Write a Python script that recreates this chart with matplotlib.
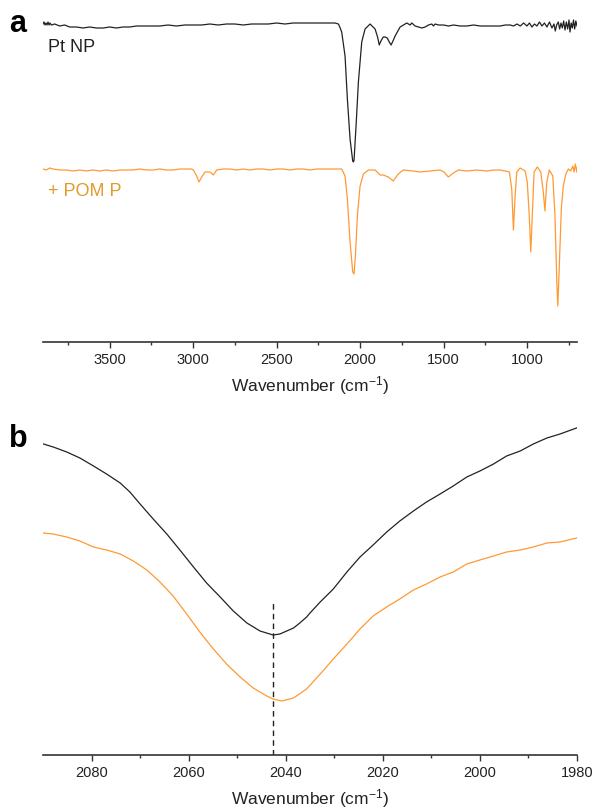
import numpy as np
import matplotlib
matplotlib.use("Agg")
import matplotlib.pyplot as plt

plt.rcParams['font.family'] = ['Liberation Sans', 'DejaVu Sans']
plt.rcParams['mathtext.fontset'] = 'custom'
plt.rcParams['mathtext.rm'] = 'Liberation Sans'
plt.rcParams['mathtext.it'] = 'Liberation Sans:italic'

black = '#222222'
orange = '#FF9933'
orange_text = '#E39A2C'
axis_col = '#333333'

# ---- panel a: full spectra (transmittance, a.u., offset) ----
pt_wn = [3900, 3894, 3888, 3882, 3876, 3870, 3864, 3858, 3850, 3830, 3800, 3770, 3740, 3700,
         3660, 3620, 3580, 3540, 3500, 3460, 3420, 3380, 3340, 3300, 3250, 3200, 3150, 3100,
         3050, 3000, 2950, 2900, 2850, 2800, 2750, 2700, 2650, 2600, 2550, 2500, 2450, 2400,
         2350, 2300, 2250, 2200, 2150, 2130, 2124, 2110, 2090, 2076, 2060, 2044, 2040, 2036,
         2024, 2010, 1990, 1970, 1940, 1910, 1895, 1885, 1875, 1861, 1850, 1837, 1825, 1814,
         1800, 1790, 1760, 1740, 1720, 1700, 1690, 1670, 1650, 1630, 1610, 1590, 1570, 1560,
         1550, 1530, 1500, 1470, 1440, 1400, 1360, 1320, 1280, 1240, 1200, 1160, 1130, 1100,
         1080, 1060, 1040, 1020, 1000, 985, 970, 955, 940, 925, 910, 895, 880, 865, 850, 838,
         830, 822, 812, 804, 796, 788, 780, 772, 764, 756, 748, 742, 735, 728, 721, 714, 707,
         700]
pt_t = [3.18, 3.20, 3.17, 3.19, 3.17, 3.20, 3.17, 3.19, 3.17, 3.18, 3.16, 3.17, 3.15, 3.15,
        3.14, 3.15, 3.14, 3.14, 3.15, 3.14, 3.15, 3.15, 3.16, 3.16, 3.16, 3.16, 3.17, 3.16,
        3.17, 3.17, 3.17, 3.18, 3.17, 3.18, 3.18, 3.17, 3.18, 3.18, 3.18, 3.19, 3.18, 3.19,
        3.19, 3.19, 3.19, 3.19, 3.19, 3.18, 3.16, 3.10, 2.86, 2.43, 2.03, 1.81, 1.80, 1.82,
        2.16, 2.60, 3.00, 3.13, 3.18, 3.13, 3.05, 2.97, 3.01, 3.05, 3.05, 3.04, 3.00, 2.97,
        3.02, 3.06, 3.15, 3.17, 3.19, 3.17, 3.19, 3.16, 3.15, 3.14, 3.15, 3.17, 3.18, 3.16,
        3.18, 3.17, 3.17, 3.16, 3.17, 3.16, 3.16, 3.17, 3.16, 3.16, 3.16, 3.16, 3.17, 3.17,
        3.16, 3.18, 3.16, 3.19, 3.16, 3.19, 3.15, 3.18, 3.16, 3.20, 3.16, 3.19, 3.15, 3.20,
        3.14, 3.18, 3.11, 3.17, 3.20, 3.13, 3.19, 3.14, 3.21, 3.12, 3.20, 3.13, 3.22, 3.10,
        3.19, 3.14, 3.22, 3.13, 3.21, 3.16]

pom_wn = [3900, 3880, 3860, 3840, 3800, 3760, 3720, 3680, 3640, 3600, 3560, 3520, 3480, 3440,
          3400, 3360, 3320, 3280, 3240, 3200, 3160, 3120, 3080, 3040, 3010, 2999, 2979, 2965,
          2949, 2929, 2899, 2879, 2859, 2820, 2780, 2740, 2700, 2660, 2620, 2580, 2540, 2500,
          2460, 2420, 2380, 2340, 2300, 2260, 2220, 2180, 2140, 2110, 2090, 2076, 2060, 2044,
          2036, 2028, 2016, 2000, 1980, 1950, 1910, 1880, 1861, 1831, 1801, 1771, 1741, 1681,
          1641, 1581, 1521, 1497, 1471, 1441, 1411, 1361, 1300, 1240, 1200, 1161, 1130, 1105,
          1091, 1081, 1071, 1061, 1041, 1011, 998, 986, 977, 968, 957, 938, 917, 902, 892,
          881, 866, 845, 832, 821, 815, 806, 794, 782, 767, 752, 738, 725, 718, 710, 702, 700]
pom_t = [1.73, 1.72, 1.74, 1.73, 1.72, 1.72, 1.71, 1.72, 1.71, 1.72, 1.71, 1.72, 1.71, 1.72,
         1.72, 1.72, 1.73, 1.72, 1.72, 1.73, 1.72, 1.72, 1.73, 1.73, 1.73, 1.72, 1.66, 1.60,
         1.65, 1.70, 1.70, 1.67, 1.72, 1.73, 1.73, 1.72, 1.73, 1.72, 1.73, 1.73, 1.72, 1.73,
         1.73, 1.72, 1.73, 1.73, 1.72, 1.73, 1.73, 1.73, 1.73, 1.73, 1.66, 1.43, 1.00, 0.70,
         0.68, 0.86, 1.26, 1.56, 1.68, 1.72, 1.72, 1.67, 1.67, 1.65, 1.61, 1.68, 1.72, 1.71,
         1.70, 1.71, 1.72, 1.70, 1.65, 1.69, 1.72, 1.71, 1.72, 1.71, 1.72, 1.72, 1.71, 1.70,
         1.53, 1.12, 1.46, 1.70, 1.74, 1.71, 1.60, 1.26, 0.90, 1.26, 1.70, 1.75, 1.70, 1.50, 1.31,
         1.60, 1.72, 1.66, 1.26, 0.60, 0.36, 0.76, 1.33, 1.56, 1.68, 1.73, 1.71, 1.76, 1.70,
         1.78, 1.70, 1.74]

# ---- panel b: zoom on the CO band ----
pt_b_wn = [2089.9, 2087.9, 2085.1, 2082.4, 2079.6, 2076.9, 2074.1, 2072.1, 2070.0, 2067.3,
           2064.5, 2061.8, 2059.0, 2056.3, 2053.5, 2050.8, 2048.0, 2045.3, 2042.6, 2041.2,
           2039.8, 2038.4, 2037.1, 2035.7, 2035.0, 2032.9, 2030.2, 2027.4, 2024.7, 2022.0,
           2019.2, 2016.5, 2013.7, 2011.0, 2008.2, 2005.5, 2002.7, 2000.0, 1997.2, 1994.5,
           1991.7, 1989.0, 1986.2, 1983.5, 1980.1]
pt_b_t = [3.11, 3.08, 3.03, 2.97, 2.89, 2.81, 2.72, 2.63, 2.51, 2.36,
          2.21, 2.05, 1.88, 1.72, 1.58, 1.44, 1.32, 1.24, 1.20, 1.21,
          1.24, 1.27, 1.32, 1.38, 1.42, 1.53, 1.66, 1.83, 1.98, 2.10,
          2.23, 2.34, 2.44, 2.53, 2.61, 2.69, 2.78, 2.84, 2.91, 2.99,
          3.04, 3.11, 3.17, 3.21, 3.27]

pom_b_wn = [2089.9, 2087.9, 2085.1, 2082.4, 2079.6, 2076.9, 2074.1, 2071.4, 2068.6, 2065.9,
            2063.2, 2060.4, 2057.7, 2054.9, 2052.2, 2049.4, 2046.7, 2043.9, 2042.6, 2040.8,
            2038.4, 2035.7, 2032.9, 2030.2, 2027.4, 2024.7, 2022.0, 2019.2, 2016.5, 2013.7,
            2011.0, 2008.2, 2005.5, 2002.7, 2000.0, 1997.2, 1994.5, 1991.7, 1989.0, 1986.2,
            1983.5, 1980.1]
pom_b_t = [2.22, 2.21, 2.18, 2.14, 2.08, 2.05, 2.01, 1.94, 1.85, 1.73,
           1.59, 1.41, 1.23, 1.06, 0.91, 0.78, 0.67, 0.59, 0.56, 0.54,
           0.57, 0.66, 0.81, 0.96, 1.11, 1.26, 1.39, 1.48, 1.56, 1.65,
           1.71, 1.78, 1.83, 1.91, 1.95, 1.99, 2.03, 2.05, 2.08, 2.12,
           2.13, 2.17]

peak_pos = 2042.6
peak_line_top = 1.54

fig = plt.figure(figsize=(5.96, 8.12), dpi=100)
ax_a = fig.add_axes([43/596, 1-343/812, 534/596, 333/812])
ax_b = fig.add_axes([43/596, 1-756/812, 534/596, 336/812])


def style_axis(ax):
    for s in ['top', 'left', 'right']:
        ax.spines[s].set_visible(False)
    ax.spines['bottom'].set_color(axis_col)
    ax.spines['bottom'].set_linewidth(1.2)
    ax.set_yticks([])
    ax.tick_params(axis='x', which='major', direction='out', length=4, width=1,
                   color=axis_col, labelsize=10.5, labelcolor='#222222', pad=3)
    ax.tick_params(axis='x', which='minor', direction='out', length=2.5, width=1,
                   color=axis_col)
    ax.set_xlabel('Wavenumber (cm$^{-1}$)', fontsize=12.5, color='#222222', labelpad=5)


# panel a
ax_a.plot(pt_wn, pt_t, color=black, lw=0.9)
ax_a.plot(pom_wn, pom_t, color=orange, lw=0.9)
ax_a.set_xlim(3900, 700)
ax_a.set_ylim(0, 3.33)
ax_a.set_xticks([3500, 3000, 2500, 2000, 1500, 1000])
ax_a.set_xticks(np.arange(750, 3900, 250), minor=True)
style_axis(ax_a)
ax_a.text(3870, 2.95, 'Pt NP', fontsize=13, color='#222222', va='center', ha='left')
ax_a.text(3870, 1.51, '+ POM P', fontsize=13, color=orange_text, va='center', ha='left')

# panel b
ax_b.plot(pt_b_wn, pt_b_t, color=black, lw=0.9)
ax_b.plot(pom_b_wn, pom_b_t, color=orange, lw=0.9)
ax_b.plot([peak_pos, peak_pos], [0, peak_line_top], color=black, lw=1, ls=(0, (4, 3)))
ax_b.set_xlim(2090, 1980)
ax_b.set_ylim(0, 3.36)
ax_b.set_xticks([2080, 2060, 2040, 2020, 2000, 1980])
ax_b.set_xticks(np.arange(1990, 2090, 20), minor=True)
style_axis(ax_b)

fig.text(18/596, 1-24/812, 'a', fontsize=22, fontweight='bold', ha='center', va='center')
fig.text(18/596, 1-439/812, 'b', fontsize=22, fontweight='bold', ha='center', va='center')

fig.savefig('out.png', dpi=100)
